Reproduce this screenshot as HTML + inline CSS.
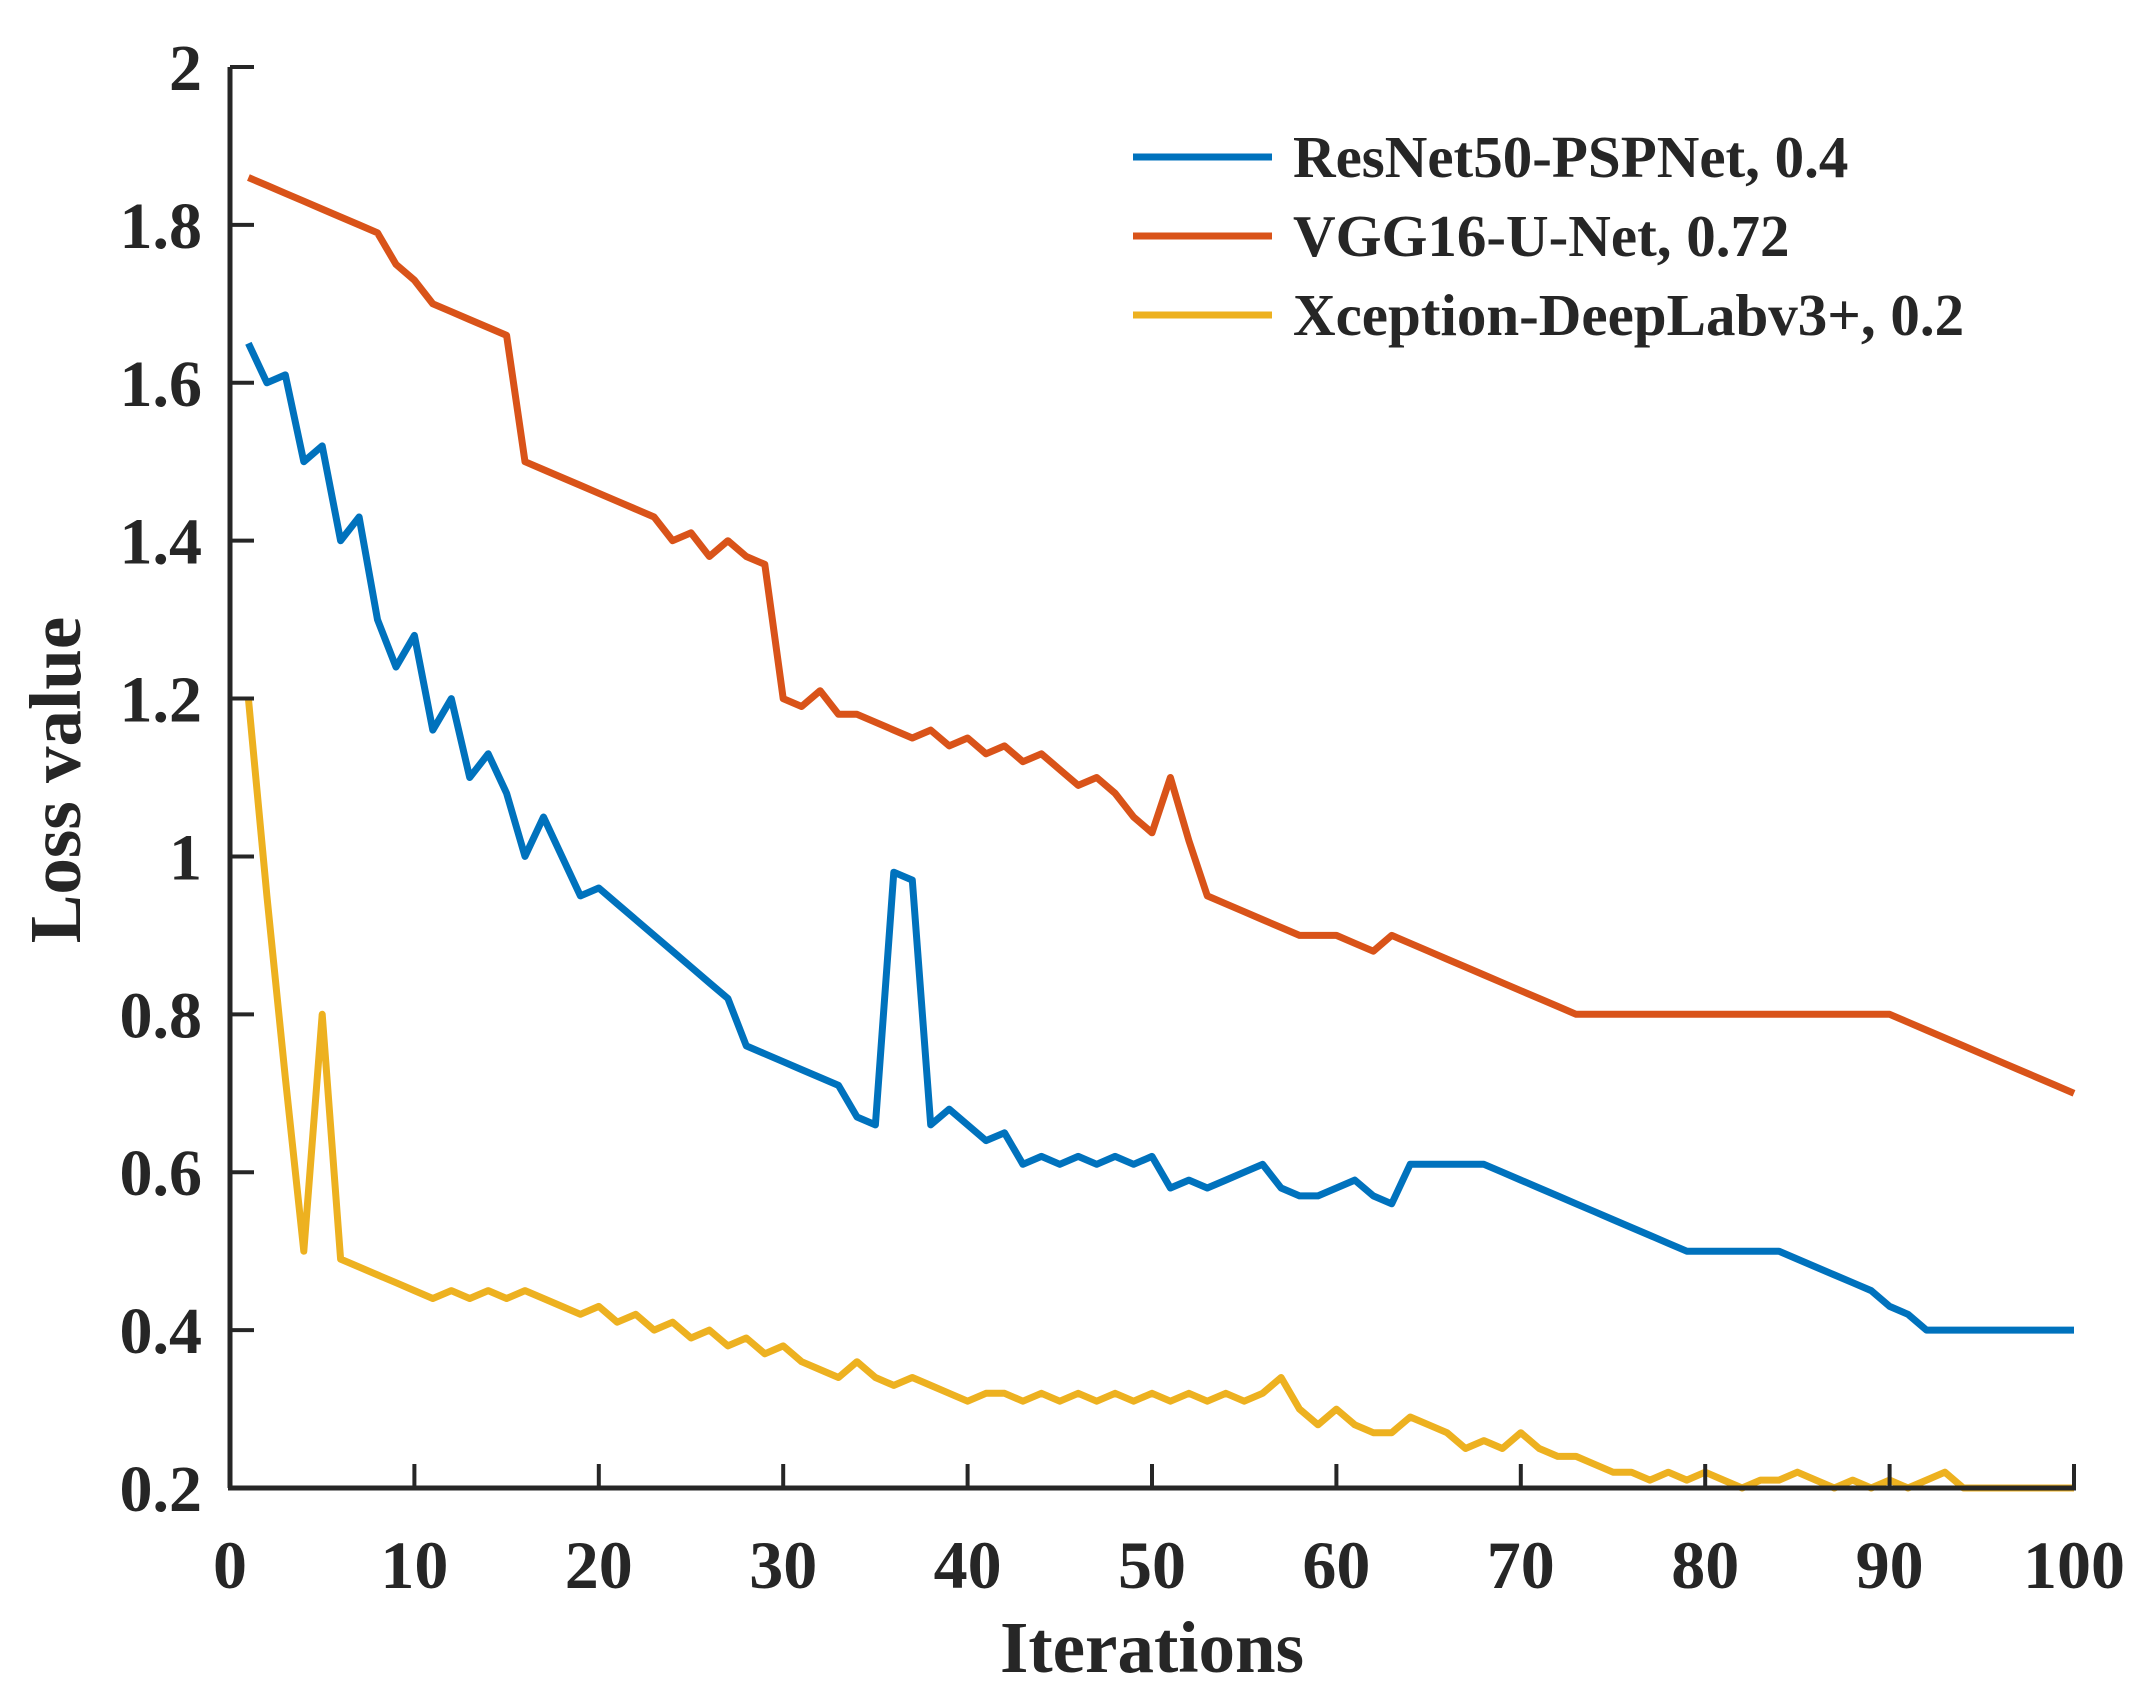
<!DOCTYPE html>
<html><head><meta charset="utf-8">
<style>
html,body{margin:0;padding:0;background:#fff;}
svg{display:block;}
text{font-family:"Liberation Serif",serif;font-weight:bold;fill:#262626;}
</style></head>
<body>
<svg id="chart" width="2145" height="1703" viewBox="0 0 2145 1703" xmlns="http://www.w3.org/2000/svg">
<g id="plot"></g>
</svg>
<script>
const xTicks = [0,10,20,30,40,50,60,70,80,90,100];
const yTicks = [0.2,0.4,0.6,0.8,1,1.2,1.4,1.6,1.8,2];
const seriesNames = ["ResNet50-PSPNet, 0.4","VGG16-U-Net, 0.72","Xception-DeepLabv3+, 0.2"];
const resnet = [1.65,1.60,1.61,1.50,1.52,1.40,1.43,1.30,1.24,1.28,1.16,1.20,1.10,1.13,1.08,1.00,1.05,1.00,0.95,0.96,0.94,0.92,0.90,0.88,0.86,0.84,0.82,0.76,0.75,0.74,0.73,0.72,0.71,0.67,0.66,0.98,0.97,0.66,0.68,0.66,0.64,0.65,0.61,0.62,0.61,0.62,0.61,0.62,0.61,0.62,0.58,0.59,0.58,0.59,0.60,0.61,0.58,0.57,0.57,0.58,0.59,0.57,0.56,0.61,0.61,0.61,0.61,0.61,0.60,0.59,0.58,0.57,0.56,0.55,0.54,0.53,0.52,0.51,0.50,0.50,0.50,0.50,0.50,0.50,0.49,0.48,0.47,0.46,0.45,0.43,0.42,0.40,0.40,0.40,0.40,0.40,0.40,0.40,0.40,0.40];
const vgg = [1.86,1.85,1.84,1.83,1.82,1.81,1.80,1.79,1.75,1.73,1.70,1.69,1.68,1.67,1.66,1.50,1.49,1.48,1.47,1.46,1.45,1.44,1.43,1.40,1.41,1.38,1.40,1.38,1.37,1.20,1.19,1.21,1.18,1.18,1.17,1.16,1.15,1.16,1.14,1.15,1.13,1.14,1.12,1.13,1.11,1.09,1.10,1.08,1.05,1.03,1.10,1.02,0.95,0.94,0.93,0.92,0.91,0.90,0.90,0.90,0.89,0.88,0.90,0.89,0.88,0.87,0.86,0.85,0.84,0.83,0.82,0.81,0.80,0.80,0.80,0.80,0.80,0.80,0.80,0.80,0.80,0.80,0.80,0.80,0.80,0.80,0.80,0.80,0.80,0.80,0.79,0.78,0.77,0.76,0.75,0.74,0.73,0.72,0.71,0.70];
const xception = [1.20,0.95,0.72,0.50,0.80,0.49,0.48,0.47,0.46,0.45,0.44,0.45,0.44,0.45,0.44,0.45,0.44,0.43,0.42,0.43,0.41,0.42,0.40,0.41,0.39,0.40,0.38,0.39,0.37,0.38,0.36,0.35,0.34,0.36,0.34,0.33,0.34,0.33,0.32,0.31,0.32,0.32,0.31,0.32,0.31,0.32,0.31,0.32,0.31,0.32,0.31,0.32,0.31,0.32,0.31,0.32,0.34,0.30,0.28,0.30,0.28,0.27,0.27,0.29,0.28,0.27,0.25,0.26,0.25,0.27,0.25,0.24,0.24,0.23,0.22,0.22,0.21,0.22,0.21,0.22,0.21,0.20,0.21,0.21,0.22,0.21,0.20,0.21,0.20,0.21,0.20,0.21,0.22,0.20,0.20,0.20,0.20,0.20,0.20,0.20];

const NS = "http://www.w3.org/2000/svg";
const g = document.getElementById('plot');
const X0 = 230, X1 = 2074, Y0 = 1488, Y1 = 67;
const xMin = 0, xMax = 100, yMin = 0.2, yMax = 2;
function sx(v){ return X0 + (v - xMin) / (xMax - xMin) * (X1 - X0); }
function sy(v){ return Y0 - (v - yMin) / (yMax - yMin) * (Y0 - Y1); }
function mk(tag, attrs){ const e = document.createElementNS(NS, tag); for (const k in attrs) e.setAttribute(k, attrs[k]); g.appendChild(e); return e; }

const colors = ["#0072BD","#D95319","#EDB120"];
const data = [resnet, vgg, xception];
const seriesKeys = ["resnet50-pspnet-line","vgg16-unet-line","xception-deeplabv3-line"];
data.forEach((arr, si) => {
  const pts = arr.map((v, i) => sx(i + 1).toFixed(1) + "," + sy(v).toFixed(1)).join(" ");
  const pl = mk('polyline', {points: pts, fill: 'none', stroke: colors[si], 'stroke-width': 7, 'stroke-linejoin': 'round'});
  
  
});

const ya = mk('line', {x1: X0, y1: Y1, x2: X0, y2: Y0, stroke: '#262626', 'stroke-width': 5});


const xa = mk('line', {x1: X0 - 2, y1: Y0, x2: X1 + 2, y2: Y0, stroke: '#262626', 'stroke-width': 5});



xTicks.forEach(t => {
  const tk = mk('line', {x1: sx(t), y1: Y0, x2: sx(t), y2: Y0 - 24, stroke: '#262626', 'stroke-width': 4});
  
  
  const lb = mk('text', {x: sx(t), y: Y0 + 100, 'text-anchor': 'middle', 'font-size': 68});
  lb.textContent = String(t);
  
  
});
yTicks.forEach(t => {
  const tk = mk('line', {x1: X0, y1: sy(t), x2: X0 + 24, y2: sy(t), stroke: '#262626', 'stroke-width': 4});
  
  
  const lb = mk('text', {x: 202, y: sy(t) + 23, 'text-anchor': 'end', 'font-size': 66});
  lb.textContent = String(t);
  
  
});

const xt = mk('text', {x: sx(50), y: 1672, 'text-anchor': 'middle', 'font-size': 73});
xt.textContent = 'Iterations';


const yt = mk('text', {x: 0, y: 0, 'text-anchor': 'middle', 'font-size': 73, transform: 'translate(80,780) rotate(-90)'});
yt.textContent = 'Loss value';



const legY = [157, 236, 315];
seriesNames.forEach((n, i) => {
  const ln = mk('line', {x1: 1133, y1: legY[i], x2: 1272, y2: legY[i], stroke: colors[i], 'stroke-width': 7});
  
  
  const tx = mk('text', {x: 1293, y: legY[i] + 20, 'font-size': 59});
  tx.textContent = n;
  
  
});
</script>
</body></html>
